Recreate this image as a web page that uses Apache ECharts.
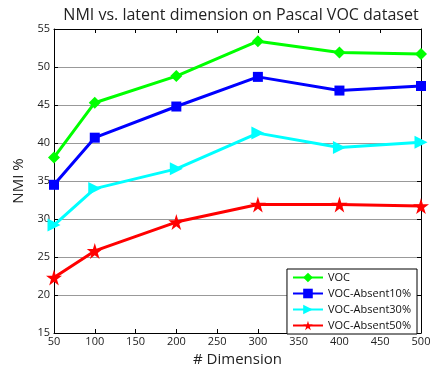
<!DOCTYPE html>
<html>
<head>
<meta charset="utf-8">
<script src="https://cdn.jsdelivr.net/npm/echarts@6/dist/echarts.min.js"></script>
<style>
  html, body { margin: 0; padding: 0; background: #fff; }
  #chart { width: 444px; height: 372px; }
</style>
</head>
<body>
<div id="chart"></div>
<script>
// dimensions on the x axis
const dims = [50, 100, 200, 300, 400, 500]
// NMI % per setting
const voc = [38.1, 45.3, 48.8, 53.4, 51.9, 51.7]
const absent10 = [34.5, 40.7, 44.8, 48.7, 46.9, 47.5]
const absent30 = [29.2, 34.0, 36.6, 41.3, 39.4, 40.1]
const absent50 = [22.3, 25.8, 29.6, 31.9, 31.9, 31.7]
const seriesNames = ['VOC', 'VOC-Absent10%', 'VOC-Absent30%', 'VOC-Absent50%']

const starPath = 'path://M50,0 L61,35 L98,35 L68,57 L79,91 L50,70 L21,91 L32,57 L2,35 L39,35 Z'
const font = 'Open Sans'

const pairs = arr => dims.map((d, i) => [d, arr[i]])

function makeSeries(name, data, color, symbol, size, rotate) {
  return {
    name: name,
    type: 'line',
    data: pairs(data),
    symbol: symbol,
    symbolSize: size,
    symbolRotate: rotate || 0,
    lineStyle: { color: color, width: 3 },
    itemStyle: { color: color },
    emphasis: { disabled: true },
  }
}

const chart = echarts.init(document.getElementById('chart'))
const option = {
  animation: false,
  textStyle: { fontFamily: font },
  title: {
    text: 'NMI vs. latent dimension on Pascal VOC dataset',
    left: 236,
    textAlign: 'center',
    top: 2,
    textStyle: { fontFamily: font, fontSize: 16, fontWeight: 'normal', color: '#222' },
  },
  grid: { left: 54, right: 23, top: 29, bottom: 32 },
  legend: {
    right: 27,
    bottom: 38,
    orient: 'vertical',
    backgroundColor: '#fff',
    borderColor: '#000',
    borderWidth: 1,
    borderRadius: 0,
    padding: [3, 6, 3, 5],
    itemGap: 5,
    itemWidth: 30,
    itemHeight: 12,
    textStyle: { fontFamily: font, fontSize: 11, color: '#111' },
    data: seriesNames,
  },
  xAxis: [
    {
      type: 'value',
      min: 50,
      max: 500,
      interval: 50,
      name: '# Dimension',
      nameLocation: 'middle',
      nameGap: 19,
      nameTextStyle: { fontFamily: font, fontSize: 15, color: '#222' },
      axisLine: { lineStyle: { color: '#000', width: 1 } },
      axisTick: { inside: true, length: 4, lineStyle: { color: '#000' } },
      axisLabel: { fontSize: 11, color: '#222', margin: 3 },
      splitLine: { show: false },
    },
    {
      type: 'value',
      position: 'top',
      min: 50,
      max: 500,
      interval: 50,
      axisLine: { show: true, lineStyle: { color: '#000', width: 1 } },
      axisTick: { inside: true, length: 4, lineStyle: { color: '#000' } },
      axisLabel: { show: false },
      splitLine: { show: false },
    },
  ],
  yAxis: [
    {
      type: 'value',
      min: 15,
      max: 55,
      interval: 5,
      name: 'NMI %',
      nameLocation: 'middle',
      nameGap: 25,
      nameTextStyle: { fontFamily: font, fontSize: 15, color: '#222' },
      axisLine: { show: true, lineStyle: { color: '#000', width: 1 } },
      axisTick: { inside: true, length: 4, lineStyle: { color: '#000' } },
      axisLabel: { fontSize: 11, color: '#222', margin: 4 },
      splitLine: { show: true, lineStyle: { color: '#999', width: 1 } },
    },
    {
      type: 'value',
      position: 'right',
      min: 15,
      max: 55,
      interval: 5,
      axisLine: { show: true, lineStyle: { color: '#000', width: 1 } },
      axisTick: { inside: true, length: 4, lineStyle: { color: '#000' } },
      axisLabel: { show: false },
      splitLine: { show: false },
    },
  ],
  series: [
    makeSeries(seriesNames[0], voc, '#00ff00', 'diamond', 12),
    makeSeries(seriesNames[1], absent10, '#0000ff', 'rect', 10),
    makeSeries(seriesNames[2], absent30, '#00ffff', 'triangle', 13, -90),
    makeSeries(seriesNames[3], absent50, '#ff0000', starPath, 16),
  ],
}
chart.setOption(option)
</script>
</body>
</html>
